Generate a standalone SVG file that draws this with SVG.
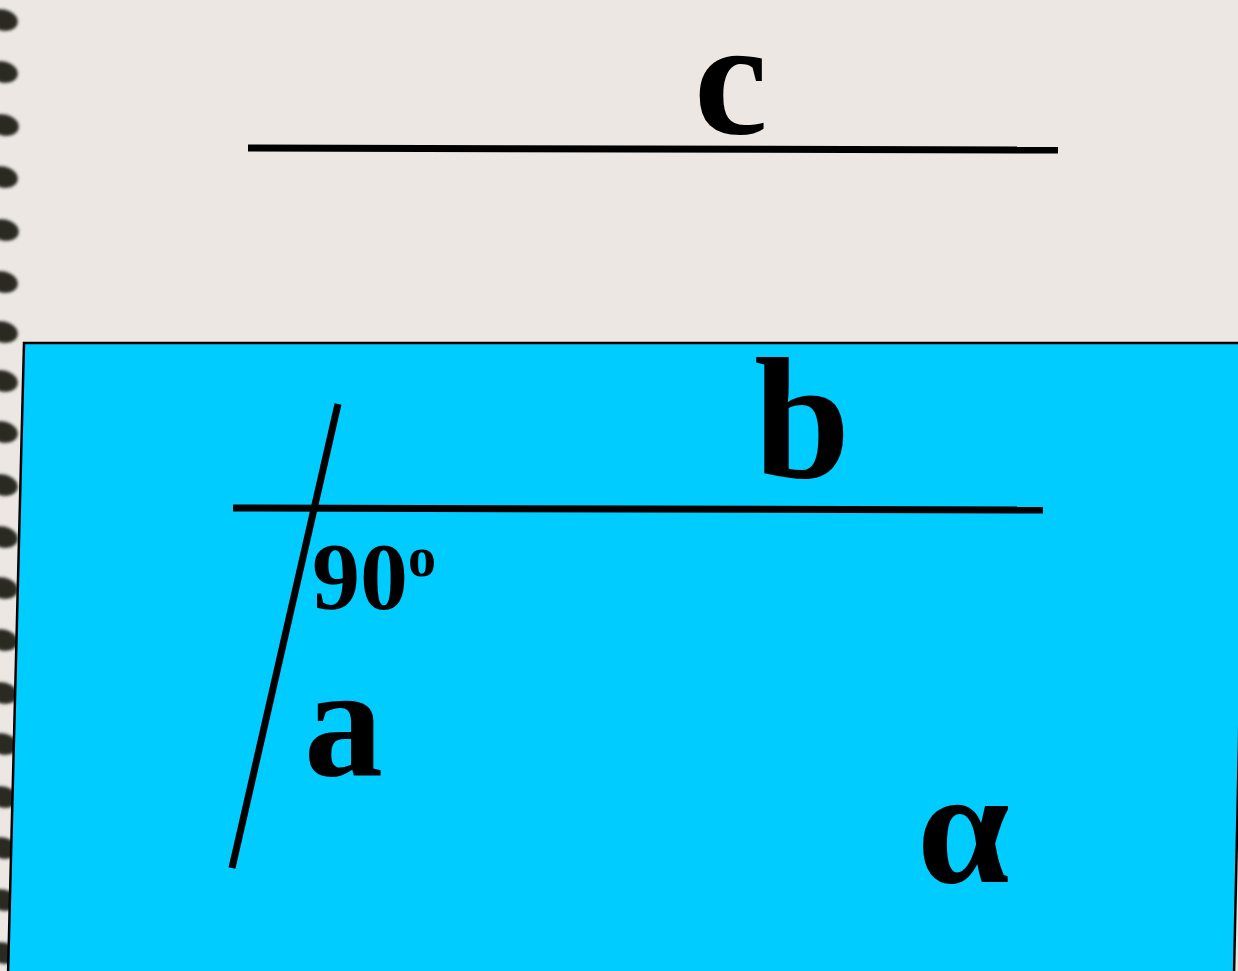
<svg xmlns="http://www.w3.org/2000/svg" width="1238" height="971" viewBox="0 0 1238 971">
<defs>
<filter id="soft" x="-50%" y="-50%" width="200%" height="200%"><feGaussianBlur stdDeviation="1.6"/></filter>
</defs>
<style>
text{font-family:'Liberation Serif','Times New Roman',Times,serif;font-weight:700;fill:#000}
.ln{stroke:#000;stroke-width:7;fill:none}
.ring{fill:#2b2b22;filter:url(#soft)}
</style>
<rect width="1238" height="971" fill="#ECE7E3"/>
<g id="binding">
<ellipse class="ring" cx="3" cy="20" rx="15" ry="10.5" transform="rotate(14 3 20)"/>
<ellipse class="ring" cx="3" cy="72" rx="15" ry="10.5" transform="rotate(14 3 72)"/>
<ellipse class="ring" cx="4" cy="125" rx="15" ry="10.5" transform="rotate(14 4 125)"/>
<ellipse class="ring" cx="3" cy="177" rx="15" ry="10.5" transform="rotate(14 3 177)"/>
<ellipse class="ring" cx="4" cy="230" rx="15" ry="10.5" transform="rotate(14 4 230)"/>
<ellipse class="ring" cx="3" cy="282" rx="15" ry="10.5" transform="rotate(14 3 282)"/>
<ellipse class="ring" cx="3" cy="332" rx="15" ry="10.5" transform="rotate(14 3 332)"/>
<ellipse class="ring" cx="3" cy="381" rx="15" ry="10.5" transform="rotate(14 3 381)"/>
<ellipse class="ring" cx="3" cy="432" rx="15" ry="10.5" transform="rotate(14 3 432)"/>
<ellipse class="ring" cx="3" cy="485" rx="15" ry="10.5" transform="rotate(14 3 485)"/>
<ellipse class="ring" cx="3" cy="537" rx="15" ry="10.5" transform="rotate(14 3 537)"/>
<ellipse class="ring" cx="3" cy="588" rx="15" ry="10.5" transform="rotate(14 3 588)"/>
<ellipse class="ring" cx="3" cy="640" rx="15" ry="10.5" transform="rotate(14 3 640)"/>
<ellipse class="ring" cx="3" cy="693" rx="15" ry="10.5" transform="rotate(14 3 693)"/>
<ellipse class="ring" cx="3" cy="744" rx="15" ry="10.5" transform="rotate(14 3 744)"/>
<ellipse class="ring" cx="3" cy="797" rx="15" ry="10.5" transform="rotate(14 3 797)"/>
<ellipse class="ring" cx="3" cy="848" rx="15" ry="10.5" transform="rotate(14 3 848)"/>
<ellipse class="ring" cx="3" cy="900" rx="15" ry="10.5" transform="rotate(14 3 900)"/>
<ellipse class="ring" cx="3" cy="953" rx="15" ry="10.5" transform="rotate(14 3 953)"/>
</g>
<g id="plane">
<polygon points="24,343 1245,343 1239,740 1234,975 8,975" fill="#00CCFF" stroke="#000" stroke-width="2.5"/>
</g>
<g id="connectors">
<line class="ln" x1="248" y1="148" x2="1058" y2="150"/>
<line class="ln" x1="233" y1="508" x2="1043" y2="510"/>
<line class="ln" x1="338" y1="404" x2="232" y2="868"/>
</g>
<g id="label-c"><text x="694" y="133" font-size="166">c</text></g>
<g id="label-b"><text x="754" y="478" font-size="173">b</text></g>
<g id="label-90"><text x="312" y="609" font-size="96">90<tspan font-size="56" dy="-33">o</tspan></text></g>
<g id="label-a"><text x="304" y="775" font-size="158">a</text></g>
<g id="label-alpha"><text x="917" y="882" font-size="166">α</text></g>
</svg>
